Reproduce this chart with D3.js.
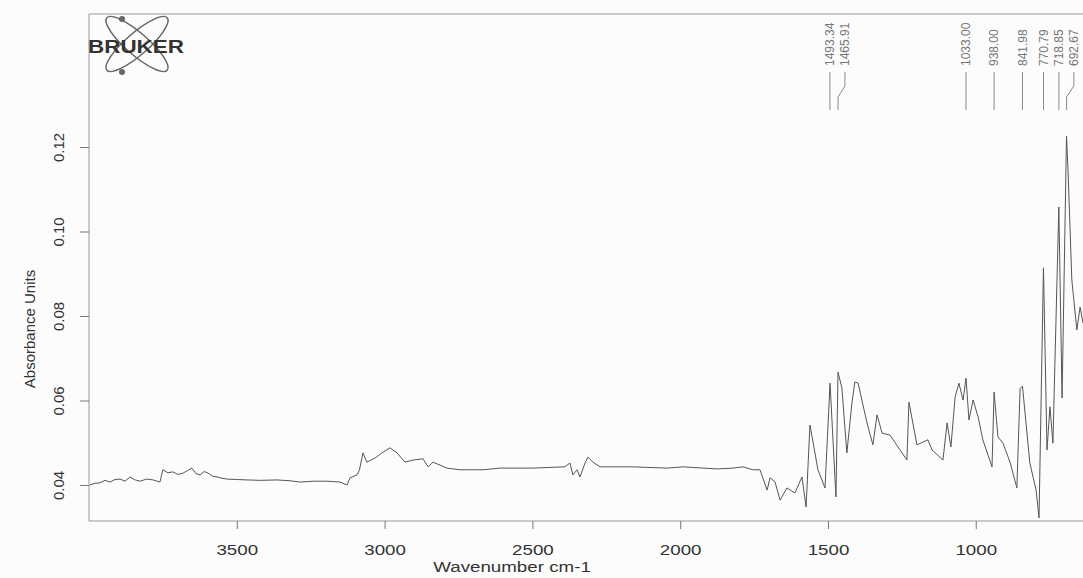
<!DOCTYPE html>
<html lang="en">
<head>
<meta charset="utf-8">
<title>IR spectrum</title>
<script src="https://cdn.jsdelivr.net/npm/d3@7/dist/d3.min.js"></script>
<style>
  body { margin: 0; background: #fcfcfc; }
  svg { display: block; font-family: "Liberation Sans", Arial, sans-serif; }
  .spectrum { fill: none; stroke: #555; stroke-width: 1; }
  .frame { stroke: #999; stroke-width: 1; fill: none; }
  .axis text { font-size: 15px; fill: #333; }
  .axis line { stroke: #777; }
  .peak text { font-size: 12px; fill: #777; }
  .peak path { stroke: #888; fill: none; }
</style>
</head>
<body>
<script>
// spectrum (wavenumber cm-1 / absorbance units)
var wavenumber = [3997, 3980, 3963, 3946, 3929, 3912, 3895, 3878, 3861, 3844, 3827, 3805, 3783, 3760, 3750, 3733, 3716,
  3699, 3682, 3667, 3652, 3638, 3624, 3610, 3597, 3582, 3567, 3550, 3533, 3500, 3465, 3420, 3364, 3320, 3286, 3240, 3195,
  3151, 3127, 3117, 3093, 3085, 3073, 3060, 3032, 3009, 2982, 2958, 2931, 2904, 2870, 2853, 2836, 2789, 2745, 2667, 2610,
  2498, 2390, 2373, 2363, 2349, 2339, 2322, 2312, 2295, 2271, 2160, 2045, 1990, 1875, 1821, 1788, 1754, 1730, 1706, 1696,
  1679, 1662, 1639, 1612, 1588, 1574, 1561, 1544, 1534, 1510, 1493, 1473, 1466, 1453, 1436, 1419, 1409, 1398, 1368, 1348,
  1334, 1317, 1290, 1263, 1233, 1226, 1199, 1162, 1148, 1111, 1097, 1084, 1070, 1057, 1043, 1033, 1023, 1009, 992, 976,
  945, 938, 925, 908, 884, 861, 850, 842, 817, 796, 786, 771, 759, 749, 739, 719, 708, 693, 688, 675, 658, 647, 637];
var absorbance = [0.0400, 0.0404, 0.0405, 0.0411, 0.0407, 0.0413, 0.0414, 0.0409, 0.0419, 0.0412, 0.0409, 0.0414, 0.0412,
  0.0407, 0.0436, 0.0429, 0.0431, 0.0425, 0.0428, 0.0434, 0.0440, 0.0427, 0.0424, 0.0432, 0.0428, 0.0421, 0.0419, 0.0416,
  0.0414, 0.0413, 0.0412, 0.0411, 0.0412, 0.0410, 0.0407, 0.0409, 0.0409, 0.0407, 0.0400, 0.0417, 0.0424, 0.0436, 0.0476,
  0.0454, 0.0464, 0.0476, 0.0488, 0.0476, 0.0454, 0.0459, 0.0462, 0.0443, 0.0454, 0.0440, 0.0436, 0.0436, 0.0440, 0.0440,
  0.0443, 0.0452, 0.0424, 0.0436, 0.0419, 0.0452, 0.0466, 0.0454, 0.0443, 0.0443, 0.0440, 0.0443, 0.0438, 0.0440, 0.0443,
  0.0436, 0.0436, 0.0388, 0.0417, 0.0407, 0.0364, 0.0393, 0.0381, 0.0419, 0.0348, 0.0542, 0.0476, 0.0436, 0.0393, 0.0641,
  0.0372, 0.0667, 0.0630, 0.0476, 0.0594, 0.0644, 0.0641, 0.0547, 0.0495, 0.0566, 0.0523, 0.0518, 0.0490, 0.0459, 0.0596,
  0.0495, 0.0507, 0.0483, 0.0459, 0.0547, 0.0490, 0.0608, 0.0641, 0.0601, 0.0653, 0.0554, 0.0601, 0.0561, 0.0507, 0.0443,
  0.0620, 0.0514, 0.0499, 0.0454, 0.0393, 0.0628, 0.0634, 0.0452, 0.0388, 0.0322, 0.0914, 0.0483, 0.0585, 0.0499, 0.1058,
  0.0606, 0.1226, 0.1146, 0.0885, 0.0767, 0.0821, 0.0783];
var peaks = [1493.34, 1465.91, 1033.00, 938.00, 841.98, 770.79, 718.85, 692.67];
var xTicks = [3500, 3000, 2500, 2000, 1500, 1000];
var yTicks = [0.04, 0.06, 0.08, 0.10, 0.12];

var W = 1083, H = 578;
var plotLeft = 89, plotTop = 14, plotBottom = 521;

var svg = d3.select("body").append("svg")
  .attr("width", W).attr("height", H);

var x = d3.scaleLinear().domain([4000, 600]).range([plotLeft, 1094]);
var y = d3.scaleLinear().domain([0.04, 0.12]).range([485, 147]);

// frame (open on the right, the scan is cut there)
svg.append("path").attr("class", "frame")
  .attr("d", "M" + W + "," + plotTop + "H" + plotLeft + "V" + plotBottom + "H" + W);

// x axis
var xAxis = svg.append("g").attr("class", "axis")
  .attr("transform", "translate(0," + plotBottom + ")")
  .call(d3.axisBottom(x).tickValues(xTicks).tickSize(8).tickFormat(d3.format("d")));
xAxis.select(".domain").remove();
xAxis.selectAll("text").attr("y", 34).attr("dy", null).attr("transform", "scale(1.25,1)");

svg.append("text")
  .attr("transform", "translate(512,572) scale(1.25,1)")
  .attr("text-anchor", "middle")
  .style("font-size", "15px").style("fill", "#333")
  .text("Wavenumber cm-1");

// y axis
var yAxis = svg.append("g").attr("class", "axis")
  .attr("transform", "translate(" + plotLeft + ",0)")
  .call(d3.axisLeft(y).tickValues(yTicks).tickSize(9).tickFormat(d3.format(".2f")));
yAxis.select(".domain").remove();
yAxis.selectAll("text")
  .attr("transform", "rotate(-90)")
  .attr("x", 0).attr("y", -25).attr("dy", null)
  .attr("text-anchor", "middle");

svg.append("text")
  .attr("transform", "translate(35,329) rotate(-90)")
  .attr("text-anchor", "middle")
  .style("font-size", "15px").style("fill", "#333")
  .text("Absorbance Units");

// spectrum
var pts = wavenumber.map(function(d, i) { return [d, absorbance[i]]; });
var line = d3.line().x(function(d) { return x(d[0]); }).y(function(d) { return y(d[1]); });
svg.append("path").attr("class", "spectrum").attr("d", line(pts));

// peak labels, pushed apart when they crowd
var sorted = peaks.slice().sort(function(a, b) { return b - a; });
var prev = -100;
var labels = sorted.map(function(p) {
  var lx = Math.max(x(p), prev + 15);
  prev = lx;
  return { p: p, px: x(p), lx: lx };
});
var pk = svg.selectAll(".peak").data(labels).enter().append("g").attr("class", "peak");
pk.append("text")
  .attr("transform", function(d) { return "translate(" + d.lx + ",66) rotate(-90)"; })
  .attr("dy", "0.35em")
  .text(function(d) { return d.p.toFixed(2); });
pk.append("path")
  .attr("d", function(d) { return "M" + d.lx + ",72V86L" + d.px + ",97V110"; });

// Bruker logo
var logo = svg.append("g").attr("transform", "translate(137,44)");
logo.append("ellipse").attr("rx", 40).attr("ry", 11).attr("transform", "rotate(41)")
  .attr("fill", "none").attr("stroke", "#666").attr("stroke-width", 1.5);
logo.append("ellipse").attr("rx", 40).attr("ry", 11).attr("transform", "rotate(-41)")
  .attr("fill", "none").attr("stroke", "#666").attr("stroke-width", 1.5);
logo.append("circle").attr("cx", -15).attr("cy", -25).attr("r", 3).attr("fill", "#666");
logo.append("circle").attr("cx", -15).attr("cy", 28).attr("r", 3).attr("fill", "#666");
svg.append("text")
  .attr("x", 88).attr("y", 53)
  .attr("textLength", 96).attr("lengthAdjust", "spacingAndGlyphs")
  .style("font-size", "18px").style("font-weight", "bold").style("fill", "#333")
  .text("BRUKER");
</script>
</body>
</html>
